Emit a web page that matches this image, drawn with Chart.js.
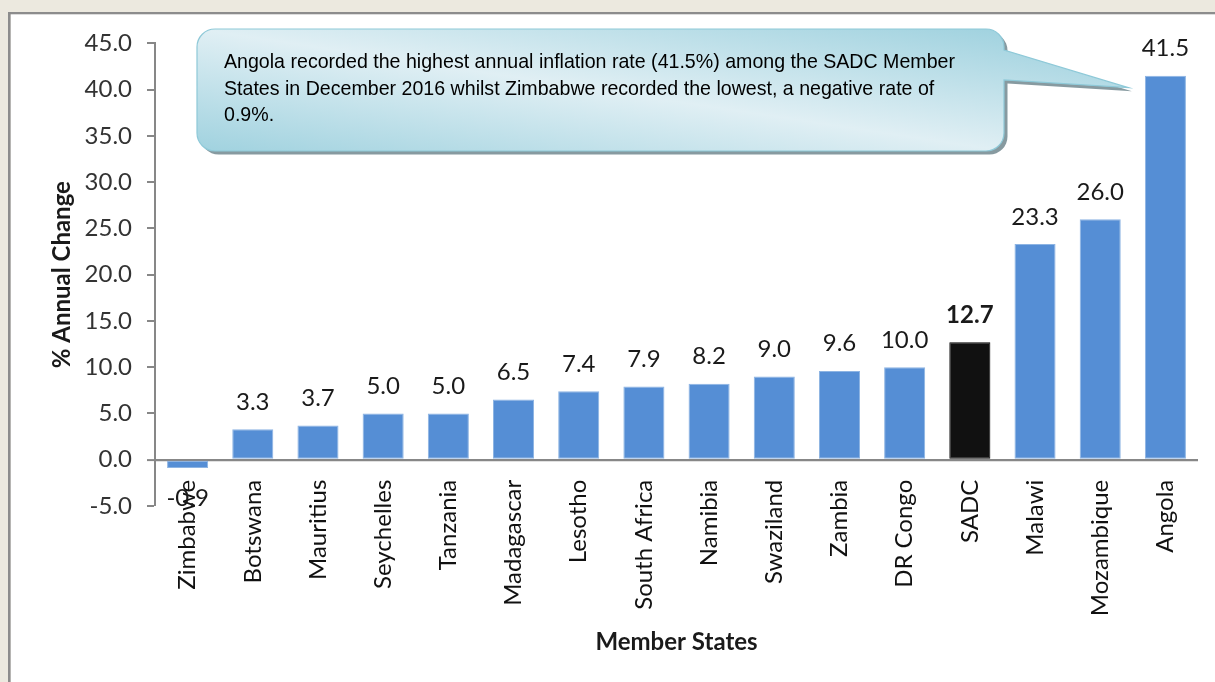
<!DOCTYPE html>
<html>
<head>
<meta charset="utf-8">
<script src="https://cdn.jsdelivr.net/npm/chart.js@4.4.1/dist/chart.umd.min.js"></script>
<style>
html,body{margin:0;padding:0;background:#ECE9DF;}
#wrap{position:relative;width:1215px;height:682px;}
</style>
</head>
<body>
<div id="wrap"><canvas id="c" width="1215" height="682"></canvas></div>
<script>
// ---- data ----
const categories = ['Zimbabwe','Botswana','Mauritius','Seychelles','Tanzania','Madagascar','Lesotho','South Africa','Namibia','Swaziland','Zambia','DR Congo','SADC','Malawi','Mozambique','Angola'];
const inflation = [-0.9, 3.3, 3.7, 5.0, 5.0, 6.5, 7.4, 7.9, 8.2, 9.0, 9.6, 10.0, 12.7, 23.3, 26.0, 41.5];
const highlightCategory = 'SADC';
const yTickValues = [-5, 0, 5, 10, 15, 20, 25, 30, 35, 40, 45];
const yAxisTitle = '% Annual Change';
const xAxisTitle = 'Member States';
const calloutLines = [
  'Angola recorded the highest annual inflation rate (41.5%) among the SADC Member',
  'States in December 2016 whilst Zimbabwe recorded the lowest, a negative rate of',
  '0.9%.'
];

// ---- styles ----
const BAR_BLUE = '#558ED5';
const BAR_DARK = '#111111';
const AXIS_GRAY = '#878787';
const FONT = 'Lato, "Open Sans", sans-serif';

const backgroundPlugin = {
  id: 'bgPanel',
  beforeDraw(chart) {
    const ctx = chart.ctx;
    ctx.save();
    ctx.fillStyle = '#ECE9DF';
    ctx.fillRect(0, 0, chart.width, chart.height);
    ctx.fillStyle = '#FFFFFF';
    ctx.fillRect(10.5, 14, chart.width, chart.height);
    ctx.fillStyle = '#8C8C8C';
    ctx.fillRect(8, 12, chart.width, 2.3);
    ctx.fillRect(8, 12, 2.6, chart.height);
    ctx.restore();
  }
};

const dataLabelPlugin = {
  id: 'valueLabels',
  afterDatasetsDraw(chart) {
    const ctx = chart.ctx;
    const meta = chart.getDatasetMeta(0);
    ctx.save();
    ctx.fillStyle = '#1a1a1a';
    ctx.textAlign = 'center';
    ctx.textBaseline = 'alphabetic';
    meta.data.forEach((bar, i) => {
      const v = inflation[i];
      const bold = categories[i] === highlightCategory;
      ctx.font = (bold ? 'bold ' : '') + '24px ' + FONT;
      const y = v >= 0 ? bar.y - 19.5 : bar.y + 38;
      ctx.fillText(v.toFixed(1), bar.x, y);
    });
    ctx.restore();
  }
};

function calloutPath(ctx, L, T, R, B, r, py1, py2, tx, ty) {
  ctx.beginPath();
  ctx.moveTo(L + r, T);
  ctx.lineTo(R - r, T);
  ctx.arcTo(R, T, R, T + r, r);
  ctx.lineTo(R, py1);
  ctx.lineTo(tx, ty);
  ctx.lineTo(R, py2);
  ctx.lineTo(R, B - r);
  ctx.arcTo(R, B, R - r, B, r);
  ctx.lineTo(L + r, B);
  ctx.arcTo(L, B, L, B - r, r);
  ctx.lineTo(L, T + r);
  ctx.arcTo(L, T, L + r, T, r);
  ctx.closePath();
}

const calloutPlugin = {
  id: 'callout',
  afterDraw(chart) {
    const ctx = chart.ctx;
    const L = 197, T = 29, R = 1004, B = 151, r = 18;
    const py1 = 50, py2 = 80;
    // tip points at the top of the Angola bar
    const meta = chart.getDatasetMeta(0);
    const last = meta.data[meta.data.length - 1];
    const tx = last.x - 37, ty = last.y + 12;
    ctx.save();
    // shadow
    ctx.save();
    ctx.translate(3.5, 3.5);
    calloutPath(ctx, L, T, R, B, r, py1, py2, tx, ty);
    ctx.fillStyle = 'rgba(95,120,128,0.75)';
    ctx.fill();
    ctx.restore();
    // body with diagonal gradient in box-unit space
    calloutPath(ctx, L, T, R, B, r, py1, py2, tx, ty);
    ctx.save();
    ctx.translate(L, T);
    ctx.scale(R - L, B - T);
    const g = ctx.createLinearGradient(0, 1, 1, 0);
    g.addColorStop(0, '#A0D2DF');
    g.addColorStop(0.5, '#E0EFF4');
    g.addColorStop(1, '#A0D2DF');
    ctx.fillStyle = g;
    ctx.fill();
    ctx.restore();
    ctx.strokeStyle = '#8EC9D8';
    ctx.lineWidth = 1.2;
    ctx.stroke();
    // text
    ctx.fillStyle = '#000000';
    ctx.font = '21px "Liberation Sans", Arial, sans-serif';
    ctx.textAlign = 'left';
    ctx.textBaseline = 'alphabetic';
    const targetW = 731;
    const sx = targetW / ctx.measureText(calloutLines[0]).width;
    const baselines = [68, 94.5, 121];
    calloutLines.forEach((line, i) => {
      ctx.save();
      ctx.translate(224, baselines[i]);
      ctx.scale(sx, 1);
      ctx.fillText(line, 0, 0);
      ctx.restore();
    });
    ctx.restore();
  }
};

const chart = new Chart(document.getElementById('c'), {
  type: 'bar',
  data: {
    labels: categories,
    datasets: [{
      data: inflation,
      backgroundColor: categories.map(c => c === highlightCategory ? BAR_DARK : BAR_BLUE),
      borderColor: categories.map(c => c === highlightCategory ? '#000000' : '#8DB4E3'),
      borderWidth: 1,
      borderSkipped: false,
      categoryPercentage: 1.0,
      barPercentage: 0.63
    }]
  },
  options: {
    responsive: false,
    animation: false,
    devicePixelRatio: 1,
    layout: { padding: { left: 0, top: 43.3, right: 17, bottom: 176 } },
    plugins: {
      legend: { display: false },
      tooltip: { enabled: false },
      title: { display: false }
    },
    scales: {
      x: {
        position: { y: 0 },
        grid: { display: false, drawTicks: false },
        border: { display: false },
        ticks: {
          autoSkip: false,
          minRotation: 90,
          maxRotation: 90,
          padding: 20,
          color: '#111111',
          font: { family: FONT, size: 24 }
        },
        title: {
          display: true,
          text: xAxisTitle,
          color: '#1a1a1a',
          font: { family: FONT, size: 24, weight: 'bold' },
          padding: { top: 0, bottom: -19 }
        },
        afterFit(s) { s.height = 178; }
      },
      y: {
        min: -5,
        max: 45,
        afterBuildTicks(s) { s.ticks = yTickValues.map(v => ({ value: v })); },
        grid: {
          drawOnChartArea: true,
          drawTicks: true,
          tickLength: 8,
          tickWidth: 2,
          tickColor: AXIS_GRAY,
          color: ctx => (ctx.tick && ctx.tick.value === 0) ? AXIS_GRAY : 'rgba(0,0,0,0)',
          lineWidth: ctx => (ctx.tick && ctx.tick.value === 0) ? 2.2 : 0
        },
        border: { display: true, color: AXIS_GRAY, width: 2 },
        ticks: {
          padding: 15,
          color: '#333333',
          font: { family: FONT, size: 24 },
          callback: v => Number(v).toFixed(1)
        },
        title: {
          display: true,
          text: yAxisTitle,
          color: '#1a1a1a',
          font: { family: FONT, size: 24, weight: 'bold' },
          padding: { top: 48, bottom: 0 }
        },
        afterFit(s) { s.width = 155; }
      }
    }
  },
  plugins: [backgroundPlugin, dataLabelPlugin, calloutPlugin]
});
</script>
</body>
</html>
